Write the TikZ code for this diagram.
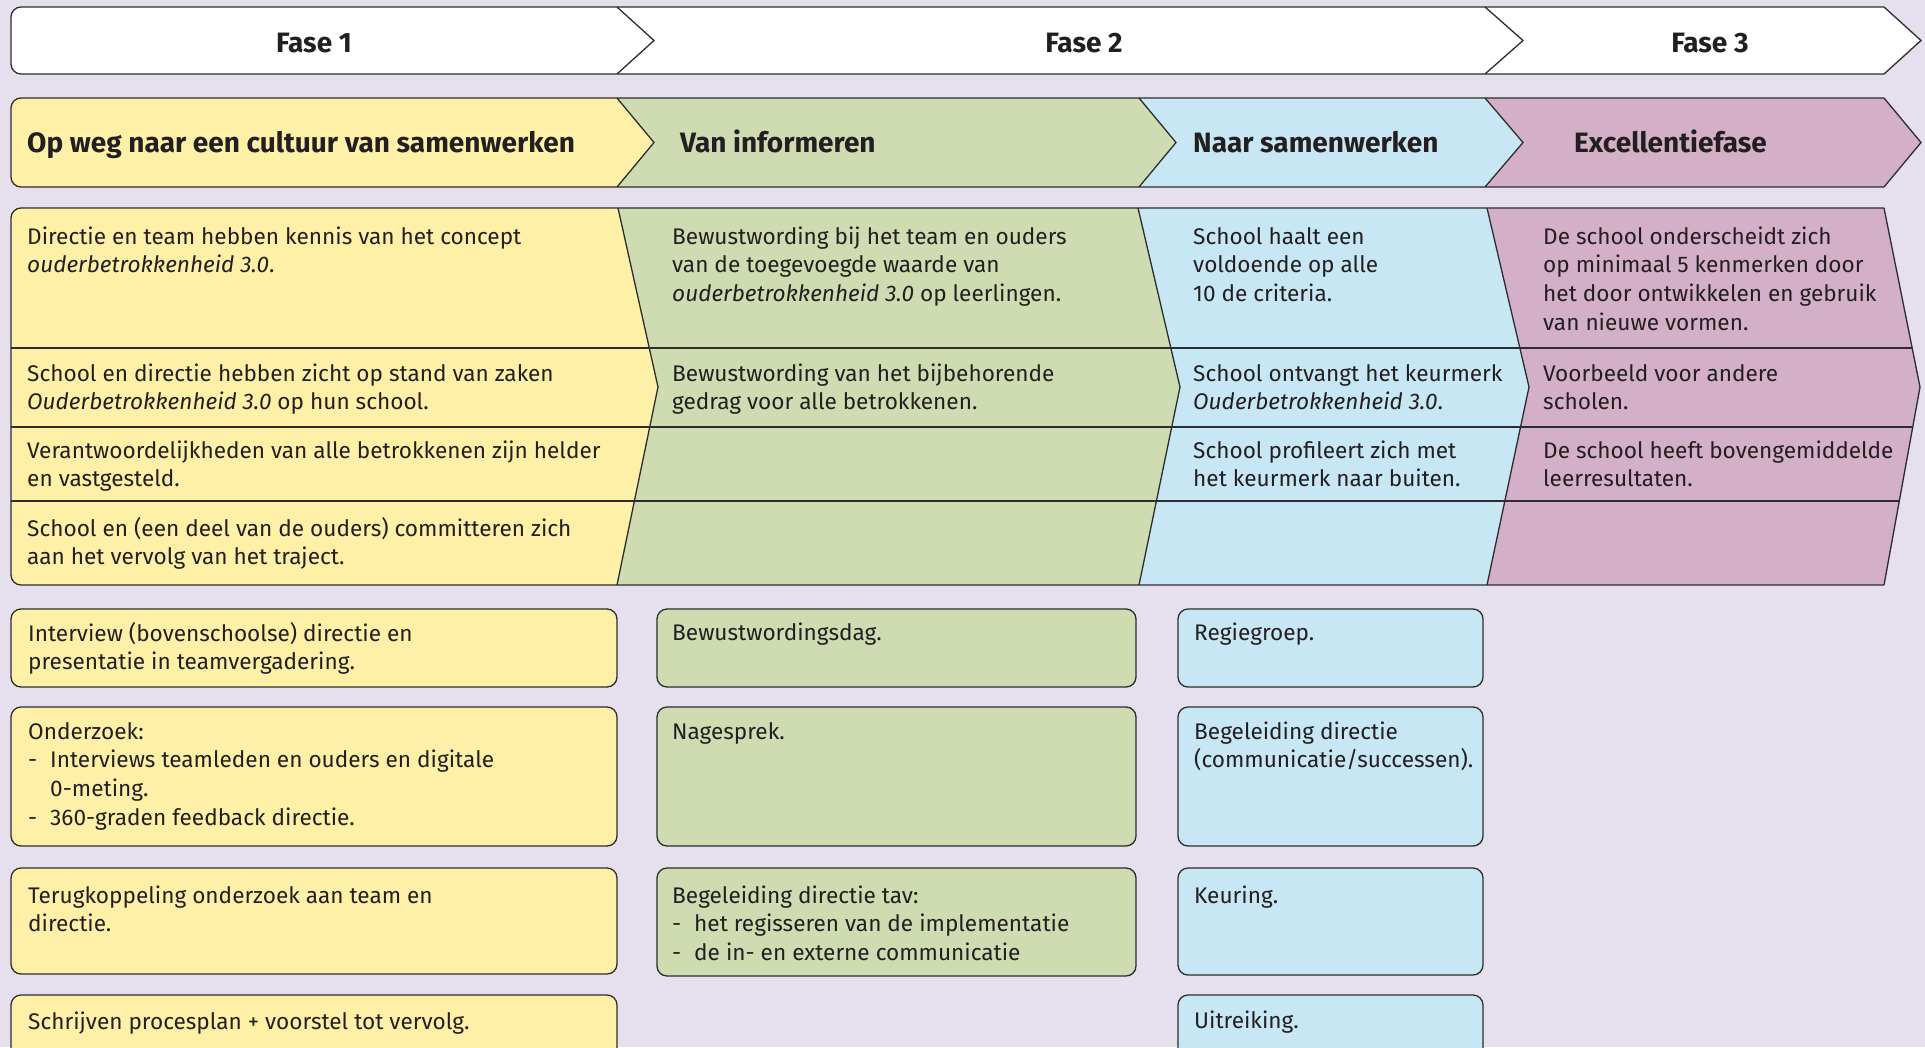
\documentclass[tikz,border=0pt]{standalone}
\usepackage{fontspec}
\setmainfont{Fira Sans}
\definecolor{achtergrond}{RGB}{230,223,237}
\definecolor{geel}{RGB}{255,240,168}
\definecolor{groen}{RGB}{207,219,177}
\definecolor{blauw}{RGB}{200,231,245}
\definecolor{paars}{RGB}{211,175,200}
\definecolor{lijn}{RGB}{45,45,45}
\definecolor{inkt}{RGB}{35,31,32}
\tikzset{rand/.style={draw=lijn, line width=1.3pt},
	vak/.style={rand, rounded corners=10pt},
	kop/.style={font=\fontsize{28}{32}\selectfont\bfseries, text=inkt, inner sep=0pt},
	%tekst in de tabel en in de vakken
	tekst/.style={font=\fontsize{22.6}{28.7}\selectfont, text=inkt, inner sep=0pt, anchor=base west}}
\newcommand{\streep}{\makebox[22pt][l]{-}}
\newcommand{\regels}[1]{\begin{tabular}[t]{@{}l@{}}#1\end{tabular}}

\begin{document}
\begin{tikzpicture}[x=1pt, y=-1pt]
	\path[use as bounding box, fill=achtergrond] (0,0) rectangle (1925,1047);
	\clip (0,0) rectangle (1925,1047);

	% rij 1: fasen
	\fill[white, rounded corners=10pt] (11,7) rectangle (640,74);
	\fill[white] (620,7) -- (1485,7) -- (1523,40.5) -- (1485,74) -- (620,74) -- cycle;
	\fill[white] (1480,7) -- (1884,7) -- (1921,40.5) -- (1884,74) -- (1480,74) -- cycle;
	\draw[vak] (1884,74) -- (11,74) -- (11,7) -- (1884,7);
	\draw[rand] (617,7) -- (654,40.5) -- (617,74);
	\draw[rand] (1485,7) -- (1523,40.5) -- (1485,74);
	\draw[rand] (1884,7) -- (1921,40.5) -- (1884,74);
	\node[kop, anchor=base] (fase1) at (314,52) {Fase 1};
	\node[kop, anchor=base] (fase2) at (1084,52) {Fase 2};
	\node[kop, anchor=base] (fase3) at (1710,52) {Fase 3};

	% rij 2: stappen
	\fill[geel, rounded corners=10pt] (11,98) rectangle (600,187);
	\fill[geel] (590,98) -- (617,98) -- (654,142.5) -- (617,187) -- (590,187) -- cycle;
	\fill[groen] (617,98) -- (1139,98) -- (1176,142.5) -- (1139,187) -- (617,187) -- (654,142.5) -- cycle;
	\fill[blauw] (1139,98) -- (1485,98) -- (1523,142.5) -- (1485,187) -- (1139,187) -- (1176,142.5) -- cycle;
	\fill[paars] (1485,98) -- (1884,98) -- (1921,142.5) -- (1884,187) -- (1485,187) -- (1523,142.5) -- cycle;
	\draw[vak] (1884,187) -- (11,187) -- (11,98) -- (1884,98);
	\draw[rand] (617,98) -- (654,142.5) -- (617,187);
	\draw[rand] (1139,98) -- (1176,142.5) -- (1139,187);
	\draw[rand] (1485,98) -- (1523,142.5) -- (1485,187);
	\draw[rand] (1884,98) -- (1921,142.5) -- (1884,187);
	\node[kop, anchor=base west] (stap1) at (27,152) {Op weg naar een cultuur van samenwerken};
	\node[kop, anchor=base west] (stap2) at (680,152) {Van informeren};
	\node[kop, anchor=base west] (stap3) at (1193,152) {Naar samenwerken};
	\node[kop, anchor=base west] (stap4) at (1574,152) {Excellentiefase};

	% tabel
	\fill[geel, rounded corners=10pt] (11,208) rectangle (600,585);
	\fill[geel] (590,208) -- (618,208) -- (658,387) -- (617,585) -- (590,585) -- cycle;
	\fill[groen] (618,208) -- (1138,208) -- (1180,387) -- (1139,585) -- (617,585) -- (658,387) -- cycle;
	\fill[blauw] (1138,208) -- (1487,208) -- (1529,387) -- (1487,585) -- (1139,585) -- (1180,387) -- cycle;
	\fill[paars] (1487,208) -- (1884,208) -- (1920,387) -- (1884,585) -- (1487,585) -- (1529,387) -- cycle;
	\begin{scope}
		\clip (11,208) -- (1884,208) -- (1920,387) -- (1884,585) -- (11,585) -- cycle;
		\draw[rand] (0,348) -- (1925,348);
		\draw[rand] (0,427) -- (1925,427);
		\draw[rand] (0,501) -- (1925,501);
	\end{scope}
	\draw[rand] (618,208) -- (658,387) -- (617,585);
	\draw[rand] (1138,208) -- (1180,387) -- (1139,585);
	\draw[rand] (1487,208) -- (1529,387) -- (1487,585);
	\draw[vak] (1884,585) -- (11,585) -- (11,208) -- (1884,208);
	\draw[rand] (1884,208) -- (1920,387) -- (1884,585);

	\node[tekst] (r1a) at (27,244) {\regels{Directie en team hebben kennis van het concept\\\textit{ouderbetrokkenheid 3.0}.}};
	\node[tekst] (r1b) at (672,244) {\regels{Bewustwording bij het team en ouders\\van de toegevoegde waarde van\\\textit{ouderbetrokkenheid 3.0} op leerlingen.}};
	\node[tekst] (r1c) at (1193,244) {\regels{School haalt een\\voldoende op alle\\10 de criteria.}};
	\node[tekst] (r1d) at (1543,244) {\regels{De school onderscheidt zich\\op minimaal 5 kenmerken door\\het door ontwikkelen en gebruik\\van nieuwe vormen.}};
	\node[tekst] (r2a) at (27,381) {\regels{School en directie hebben zicht op stand van zaken\\\textit{Ouderbetrokkenheid 3.0} op hun school.}};
	\node[tekst] (r2b) at (672,381) {\regels{Bewustwording van het bijbehorende\\gedrag voor alle betrokkenen.}};
	\node[tekst] (r2c) at (1193,381) {\regels{School ontvangt het keurmerk\\\textit{Ouderbetrokkenheid 3.0}.}};
	\node[tekst] (r2d) at (1543,381) {\regels{Voorbeeld voor andere\\scholen.}};
	\node[tekst] (r3a) at (27,458) {\regels{Verantwoordelijkheden van alle betrokkenen zijn helder\\en vastgesteld.}};
	\node[tekst] (r3c) at (1193,458) {\regels{School profileert zich met\\het keurmerk naar buiten.}};
	\node[tekst] (r3d) at (1543,458) {\regels{De school heeft bovengemiddelde\\leerresultaten.}};
	\node[tekst] (r4a) at (27,536) {\regels{School en (een deel van de ouders) committeren zich\\aan het vervolg van het traject.}};

	% activiteiten fase 1
	\draw[vak, fill=geel] (11,609) rectangle (617,687);
	\draw[vak, fill=geel] (11,707) rectangle (617,846);
	\draw[vak, fill=geel] (11,868) rectangle (617,974);
	\draw[vak, fill=geel] (11,995) rectangle (617,1080);
	\node[tekst] (a1) at (28,641) {\regels{Interview (bovenschoolse) directie en\\presentatie in teamvergadering.}};
	\node[tekst] (a2) at (28,739) {\regels{Onderzoek:\\\streep Interviews teamleden en ouders en digitale\\\hspace*{22pt}0-meting.\\\streep 360-graden feedback directie.}};
	\node[tekst] (a3) at (28,903) {\regels{Terugkoppeling onderzoek aan team en\\directie.}};
	\node[tekst] (a4) at (28,1029) {Schrijven procesplan + voorstel tot vervolg.};

	% activiteiten van informeren
	\draw[vak, fill=groen] (657,609) rectangle (1136,687);
	\draw[vak, fill=groen] (657,707) rectangle (1136,846);
	\draw[vak, fill=groen] (657,868) rectangle (1136,976);
	\node[tekst] (b1) at (672,640) {Bewustwordingsdag.};
	\node[tekst] (b2) at (672,739) {Nagesprek.};
	\node[tekst] (b3) at (672,903) {\regels{Begeleiding directie tav:\\\streep het regisseren van de implementatie\\\streep de in- en externe communicatie}};

	% activiteiten naar samenwerken
	\draw[vak, fill=blauw] (1178,609) rectangle (1483,687);
	\draw[vak, fill=blauw] (1178,707) rectangle (1483,846);
	\draw[vak, fill=blauw] (1178,868) rectangle (1483,975);
	\draw[vak, fill=blauw] (1178,995) rectangle (1483,1080);
	\node[tekst] (c1) at (1194,640) {Regiegroep.};
	\node[tekst] (c2) at (1194,739) {\regels{Begeleiding directie\\(communicatie/successen).}};
	\node[tekst] (c3) at (1194,903) {Keuring.};
	\node[tekst] (c4) at (1194,1028) {Uitreiking.};
\end{tikzpicture}
\end{document}
